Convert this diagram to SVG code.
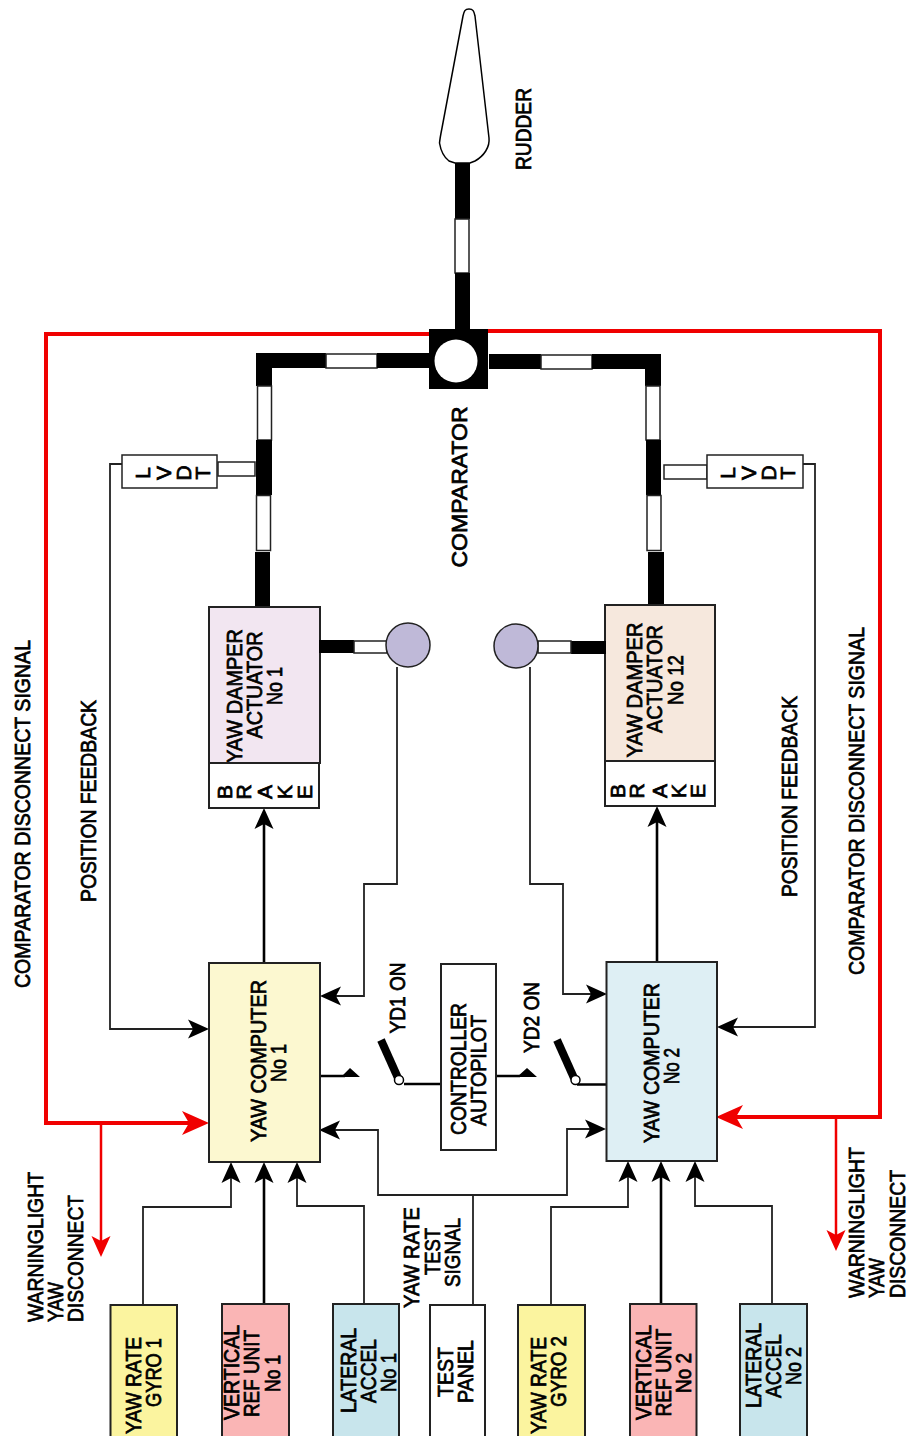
<svg xmlns="http://www.w3.org/2000/svg" width="909" height="1436" viewBox="0 0 909 1436">
<style>
text{font-family:"Liberation Sans",Arial,sans-serif;font-size:22px;fill:#000;stroke:#000;stroke-width:.75;text-anchor:middle}
text.c{font-size:21px}
.b{stroke:#222;stroke-width:2}
.w{fill:#fff;stroke:#222;stroke-width:1.5}
.k{fill:#000;stroke:none}
.l{fill:none;stroke:#222;stroke-width:1.8}
.t{fill:none;stroke:#000;stroke-width:2.6}
.r{fill:none;stroke:#f00000;stroke-width:4}
.s{fill:none;stroke:#f00000;stroke-width:2.5}
</style>
<defs>
<marker id="a" markerUnits="userSpaceOnUse" markerWidth="24" markerHeight="24" refX="5" refY="12" orient="auto"><path d="M0,2.500L21,12L0,21.500L5,12z" fill="#000"/></marker>
<marker id="rs" markerUnits="userSpaceOnUse" markerWidth="24" markerHeight="24" refX="5" refY="12" orient="auto"><path d="M0,2.500L21,12L0,21.500L5,12z" fill="#f00000"/></marker>
<marker id="rb" markerUnits="userSpaceOnUse" markerWidth="30" markerHeight="30" refX="7" refY="15" orient="auto"><path d="M0,3L27,15L0,27L7,15z" fill="#f00000"/></marker>
</defs>
<g id="connectors">
<path class="l" d="M122,464H110V1029H193" marker-end="url(#a)"/>
<path class="l" d="M803,464H815V1027H733" marker-end="url(#a)"/>
<path class="l" d="M397,667V884H364V996H336" marker-end="url(#a)"/>
<path class="l" d="M530,667V884H563V994H591" marker-end="url(#a)"/>
<path class="t" d="M264,963V824" marker-end="url(#a)"/>
<path class="t" d="M657,962V822" marker-end="url(#a)"/>
<path class="l" d="M473,1305V1195H378V1130H335" marker-end="url(#a)"/>
<path class="l" d="M473,1195H567V1129H590" marker-end="url(#a)"/>
<path class="l" d="M143,1305V1207H231V1178" marker-end="url(#a)"/>
<path class="t" d="M264,1304V1178" marker-end="url(#a)"/>
<path class="l" d="M364,1304V1206H297V1178" marker-end="url(#a)"/>
<path class="l" d="M551,1305V1207H628V1177" marker-end="url(#a)"/>
<path class="t" d="M661,1304V1177" marker-end="url(#a)"/>
<path class="l" d="M772,1304V1206H695V1177" marker-end="url(#a)"/>
<path class="t" d="M404,1084H441M577,1084.500H609M320,1076H345M496,1076H520"/>
<path class="k" d="M350,1068L341,1077H360zM527,1068L517,1077H537z"/>
<path class="r" d="M430,334H46V1123H189" marker-end="url(#rb)"/>
<path class="r" d="M486,331H880V1117H736" marker-end="url(#rb)"/>
<path class="s" d="M101,1123V1241" marker-end="url(#rs)"/>
<path class="s" d="M836,1117V1235" marker-end="url(#rs)"/>
</g>
<g id="rudder">
<path d="M469,9C473,9 474,11 475,16L489,138C490,147 484,156 475,161L470,163H455L449,161C445,158 441,152 439.500,143C440,138 441,133 442,128L463,16C464,11 465,9 469,9z" fill="#fff" stroke="#000" stroke-width="1.500"/>
<rect class="k" x="455" y="163" width="15" height="56"/>
<rect class="w" x="455" y="219" width="14" height="54"/>
<rect class="k" x="455" y="273" width="15" height="58"/>
<text x="532" y="129" dy="-1" transform="rotate(-90 532 129)" textLength="82" lengthAdjust="spacingAndGlyphs">RUDDER</text>
</g>
<g id="comparator">
<rect class="k" x="429" y="329" width="59" height="60"/>
<circle cx="456" cy="361" r="21.500" fill="#fff"/>
<text x="468" y="487" dy="-1" transform="rotate(-90 468 487)" textLength="161" lengthAdjust="spacingAndGlyphs">COMPARATOR</text>
</g>
<g id="left-linkage">
<rect class="k" x="256" y="353" width="70" height="15"/>
<rect class="w" x="326" y="354" width="51" height="14"/>
<rect class="k" x="377" y="353" width="53" height="15"/>
<rect class="k" x="256" y="353" width="16" height="33"/>
<rect class="w" x="257.500" y="386" width="14" height="54"/>
<rect class="k" x="256" y="440" width="16" height="55"/>
<rect class="w" x="256.500" y="495.500" width="14" height="55"/>
<rect class="k" x="255" y="552" width="15" height="55"/>
</g>
<g id="right-linkage">
<rect class="k" x="489" y="354" width="52" height="15"/>
<rect class="w" x="541" y="355" width="51" height="14"/>
<rect class="k" x="592" y="354" width="69" height="15"/>
<rect class="k" x="645" y="354" width="16" height="32"/>
<rect class="w" x="646" y="386" width="14" height="54"/>
<rect class="k" x="646" y="440" width="15" height="55"/>
<rect class="w" x="647" y="495.500" width="14" height="55"/>
<rect class="k" x="648" y="552" width="16" height="55"/>
</g>
<g id="lvdt-1">
<rect class="w" x="218" y="462" width="37" height="14"/>
<rect class="w" x="122" y="455" width="95" height="33"/>
<text class="c" x="150" y="473" transform="rotate(-90 150 473)">L</text>
<text class="c" x="171" y="473" transform="rotate(-90 171 473)">V</text>
<text class="c" x="191" y="473" transform="rotate(-90 191 473)">D</text>
<text class="c" x="210" y="473" transform="rotate(-90 210 473)">T</text>
</g>
<g id="lvdt-2">
<rect class="w" x="664" y="465" width="43" height="14"/>
<rect class="w" x="707" y="455" width="96" height="33"/>
<text class="c" x="735" y="473" transform="rotate(-90 735 473)">L</text>
<text class="c" x="756" y="473" transform="rotate(-90 756 473)">V</text>
<text class="c" x="776" y="473" transform="rotate(-90 776 473)">D</text>
<text class="c" x="795" y="473" transform="rotate(-90 795 473)">T</text>
</g>
<g id="actuator-1">
<rect x="209" y="607" width="111" height="156" fill="#f2e6f1" class="b"/>
<rect class="k" x="319" y="640" width="35" height="13"/>
<rect class="w" x="354" y="641" width="33" height="12"/>
<circle cx="408" cy="645" r="22" fill="#bfb9d8" stroke="#222" stroke-width="1.500"/>
<text x="243" y="696" dy="-1" transform="rotate(-90 243 696)" textLength="134" lengthAdjust="spacingAndGlyphs">YAW DAMPER</text>
<text x="263" y="685" dy="-1" transform="rotate(-90 263 685)" textLength="107" lengthAdjust="spacingAndGlyphs">ACTUATOR</text>
<text x="283" y="686" dy="-1" transform="rotate(-90 283 686)" textLength="38" lengthAdjust="spacingAndGlyphs">No 1</text>
<rect class="b" x="209" y="763" width="110" height="45" fill="#fff"/>
<text class="c" x="232" y="792" transform="rotate(-90 232 792)">B</text>
<text class="c" x="251" y="792" transform="rotate(-90 251 792)">R</text>
<text class="c" x="272" y="792" transform="rotate(-90 272 792)">A</text>
<text class="c" x="292" y="792" transform="rotate(-90 292 792)">K</text>
<text class="c" x="312" y="792" transform="rotate(-90 312 792)">E</text>
</g>
<g id="actuator-2">
<rect x="605" y="605" width="110" height="156" fill="#f6e8dd" class="b"/>
<rect class="k" x="571" y="641" width="35" height="13"/>
<rect class="w" x="538" y="641" width="33" height="12"/>
<circle cx="516" cy="646" r="22" fill="#bfb9d8" stroke="#222" stroke-width="1.500"/>
<text x="643" y="690" dy="-1" transform="rotate(-90 643 690)" textLength="135" lengthAdjust="spacingAndGlyphs">YAW DAMPER</text>
<text x="663" y="679" dy="-1" transform="rotate(-90 663 679)" textLength="108" lengthAdjust="spacingAndGlyphs">ACTUATOR</text>
<text x="684" y="680" dy="-1" transform="rotate(-90 684 680)" textLength="50" lengthAdjust="spacingAndGlyphs">No 12</text>
<rect class="b" x="605" y="761" width="110" height="45" fill="#fff"/>
<text class="c" x="625" y="791" transform="rotate(-90 625 791)">B</text>
<text class="c" x="644" y="791" transform="rotate(-90 644 791)">R</text>
<text class="c" x="667" y="791" transform="rotate(-90 667 791)">A</text>
<text class="c" x="686" y="791" transform="rotate(-90 686 791)">K</text>
<text class="c" x="705" y="791" transform="rotate(-90 705 791)">E</text>
</g>
<g id="yaw-computer-1">
<rect class="b" x="209" y="963" width="111" height="199" fill="#fcf8d0"/>
<text x="267" y="1061" dy="-1" transform="rotate(-90 267 1061)" textLength="162" lengthAdjust="spacingAndGlyphs">YAW COMPUTER</text>
<text x="287" y="1063" dy="-1" transform="rotate(-90 287 1063)" textLength="38" lengthAdjust="spacingAndGlyphs">No 1</text>
</g>
<g id="yaw-computer-2">
<rect class="b" x="606.500" y="962" width="110.500" height="199" fill="#deeff4"/>
<text x="660" y="1063" dy="-1" transform="rotate(-90 660 1063)" textLength="160" lengthAdjust="spacingAndGlyphs">YAW COMPUTER</text>
<text x="680" y="1066" dy="-1" transform="rotate(-90 680 1066)" textLength="36" lengthAdjust="spacingAndGlyphs">No 2</text>
</g>
<g id="controller">
<rect class="b" x="441" y="964" width="55" height="186" fill="#fff"/>
<text x="467" y="1069" dy="-1" transform="rotate(-90 467 1069)" textLength="132" lengthAdjust="spacingAndGlyphs">CONTROLLER</text>
<text x="487" y="1070.500" dy="-1" transform="rotate(-90 487 1070.500)" textLength="111" lengthAdjust="spacingAndGlyphs">AUTOPILOT</text>
</g>
<g id="switch-1">
<path d="M381,1040L398,1078" stroke="#000" stroke-width="8"/>
<circle cx="399" cy="1080" r="4.500" fill="#fff" stroke="#000" stroke-width="1.500"/>
<text x="406" y="998" dy="-1" transform="rotate(-90 406 998)" textLength="71" lengthAdjust="spacingAndGlyphs">YD1 ON</text>
</g>
<g id="switch-2">
<path d="M557,1040L574,1078" stroke="#000" stroke-width="8"/>
<circle cx="575.500" cy="1080" r="4.500" fill="#fff" stroke="#000" stroke-width="1.500"/>
<text x="540" y="1017.500" dy="-1" transform="rotate(-90 540 1017.500)" textLength="71" lengthAdjust="spacingAndGlyphs">YD2 ON</text>
</g>
<g id="yaw-rate-gyro-1">
<rect class="b" x="110.500" y="1305" width="66.500" height="140" fill="#fbf49f"/>
<text x="142" y="1385.500" dy="-1" transform="rotate(-90 142 1385.500)" textLength="97" lengthAdjust="spacingAndGlyphs">YAW RATE</text>
<text x="162" y="1372.500" dy="-1" transform="rotate(-90 162 1372.500)" textLength="69" lengthAdjust="spacingAndGlyphs">GYRO 1</text>
</g>
<g id="vertical-ref-1">
<rect class="b" x="222" y="1304" width="67" height="140" fill="#fab5b5"/>
<text x="240" y="1372.500" dy="-1" transform="rotate(-90 240 1372.500)" textLength="95" lengthAdjust="spacingAndGlyphs">VERTICAL</text>
<text x="260" y="1373.500" dy="-1" transform="rotate(-90 260 1373.500)" textLength="87" lengthAdjust="spacingAndGlyphs">REF UNIT</text>
<text x="281" y="1373.500" dy="-1" transform="rotate(-90 281 1373.500)" textLength="37" lengthAdjust="spacingAndGlyphs">No 1</text>
</g>
<g id="lateral-accel-1">
<rect class="b" x="333" y="1304" width="66" height="140" fill="#c8e5ec"/>
<text x="357" y="1370.500" dy="-1" transform="rotate(-90 357 1370.500)" textLength="85" lengthAdjust="spacingAndGlyphs">LATERAL</text>
<text x="377" y="1371" dy="-1" transform="rotate(-90 377 1371)" textLength="64" lengthAdjust="spacingAndGlyphs">ACCEL</text>
<text x="397" y="1372.500" dy="-1" transform="rotate(-90 397 1372.500)" textLength="39" lengthAdjust="spacingAndGlyphs">No 1</text>
</g>
<g id="test-panel">
<rect class="b" x="430" y="1305" width="55" height="140" fill="#fff"/>
<text x="454" y="1372" dy="-1" transform="rotate(-90 454 1372)" textLength="50" lengthAdjust="spacingAndGlyphs">TEST</text>
<text x="474" y="1371.500" dy="-1" transform="rotate(-90 474 1371.500)" textLength="63" lengthAdjust="spacingAndGlyphs">PANEL</text>
</g>
<g id="yaw-rate-gyro-2">
<rect class="b" x="518" y="1305" width="67" height="140" fill="#fbf49f"/>
<text x="547" y="1385.500" dy="-1" transform="rotate(-90 547 1385.500)" textLength="97" lengthAdjust="spacingAndGlyphs">YAW RATE</text>
<text x="567" y="1371.500" dy="-1" transform="rotate(-90 567 1371.500)" textLength="71" lengthAdjust="spacingAndGlyphs">GYRO 2</text>
</g>
<g id="vertical-ref-2">
<rect class="b" x="630" y="1304" width="66.500" height="140" fill="#fab5b5"/>
<text x="652" y="1372.500" dy="-1" transform="rotate(-90 652 1372.500)" textLength="95" lengthAdjust="spacingAndGlyphs">VERTICAL</text>
<text x="672" y="1372.500" dy="-1" transform="rotate(-90 672 1372.500)" textLength="88" lengthAdjust="spacingAndGlyphs">REF UNIT</text>
<text x="692" y="1373" dy="-1" transform="rotate(-90 692 1373)" textLength="40" lengthAdjust="spacingAndGlyphs">No 2</text>
</g>
<g id="lateral-accel-2">
<rect class="b" x="740" y="1304" width="67" height="140" fill="#c8e5ec"/>
<text x="762" y="1365.500" dy="-1" transform="rotate(-90 762 1365.500)" textLength="85" lengthAdjust="spacingAndGlyphs">LATERAL</text>
<text x="782" y="1366" dy="-1" transform="rotate(-90 782 1366)" textLength="64" lengthAdjust="spacingAndGlyphs">ACCEL</text>
<text x="802" y="1366" dy="-1" transform="rotate(-90 802 1366)" textLength="38" lengthAdjust="spacingAndGlyphs">No 2</text>
</g>
<g id="labels">
<text x="31" y="814" dy="-1" transform="rotate(-90 31 814)" textLength="348" lengthAdjust="spacingAndGlyphs">COMPARATOR DISCONNECT SIGNAL</text>
<text x="97" y="801" dy="-1" transform="rotate(-90 97 801)" textLength="202" lengthAdjust="spacingAndGlyphs">POSITION FEEDBACK</text>
<text x="865" y="801" dy="-1" transform="rotate(-90 865 801)" textLength="348" lengthAdjust="spacingAndGlyphs">COMPARATOR DISCONNECT SIGNAL</text>
<text x="798" y="796.500" dy="-1" transform="rotate(-90 798 796.500)" textLength="201" lengthAdjust="spacingAndGlyphs">POSITION FEEDBACK</text>
<text x="44" y="1247" dy="-1" transform="rotate(-90 44 1247)" textLength="150" lengthAdjust="spacingAndGlyphs">WARNINGLIGHT</text>
<text x="63.500" y="1302" dy="-1" transform="rotate(-90 63.500 1302)" textLength="40" lengthAdjust="spacingAndGlyphs">YAW</text>
<text x="84" y="1258.500" dy="-1" transform="rotate(-90 84 1258.500)" textLength="127" lengthAdjust="spacingAndGlyphs">DISCONNECT</text>
<text x="865" y="1222.500" dy="-1" transform="rotate(-90 865 1222.500)" textLength="151" lengthAdjust="spacingAndGlyphs">WARNINGLIGHT</text>
<text x="885" y="1278" dy="-1" transform="rotate(-90 885 1278)" textLength="40" lengthAdjust="spacingAndGlyphs">YAW</text>
<text x="906" y="1234" dy="-1" transform="rotate(-90 906 1234)" textLength="128" lengthAdjust="spacingAndGlyphs">DISCONNECT</text>
<text x="420" y="1257.500" dy="-1" transform="rotate(-90 420 1257.500)" textLength="101" lengthAdjust="spacingAndGlyphs">YAW RATE</text>
<text x="441" y="1251.500" dy="-1" transform="rotate(-90 441 1251.500)" textLength="47" lengthAdjust="spacingAndGlyphs">TEST</text>
<text x="461" y="1252.500" dy="-1" transform="rotate(-90 461 1252.500)" textLength="69" lengthAdjust="spacingAndGlyphs">SIGNAL</text>
</g>
</svg>
